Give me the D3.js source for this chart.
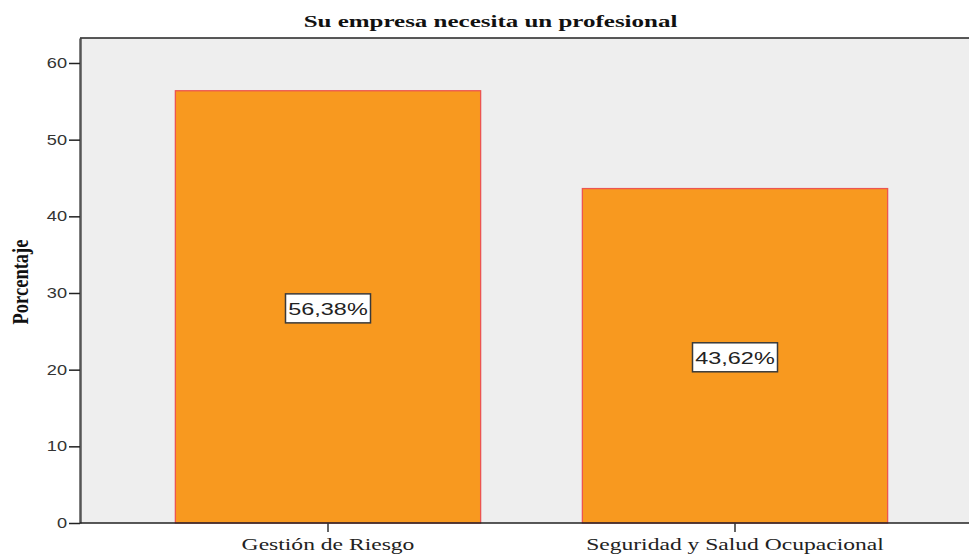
<!DOCTYPE html>
<html>
<head>
<meta charset="utf-8">
<script src="https://cdn.jsdelivr.net/npm/d3@7"></script>
<style>
  body { margin: 0; background: #fff; }
</style>
</head>
<body>
<div id="chart"></div>
<script>
var title = 'Su empresa necesita un profesional'
var y_title = 'Porcentaje'
var categories = ['Gestión de Riesgo', 'Seguridad y Salud Ocupacional']
var values = [56.38, 43.62]
var value_labels = ['56,38%', '43,62%']
var y_ticks = [0, 10, 20, 30, 40, 50, 60]

var W = 969, H = 555
var plot = {left: 80, top: 38, right: 969, bottom: 523}
// the original picture is stretched horizontally, so text is too
var stretch = 1.42

var svg = d3.select("#chart").append("svg")
    .attr("width", W).attr("height", H)

// plot background
svg.append("rect")
    .attr("x", plot.left).attr("y", plot.top)
    .attr("width", plot.right - plot.left).attr("height", plot.bottom - plot.top)
    .attr("fill", "#eeeeee")

var x = d3.scaleBand()
    .domain(categories)
    .range([124.5, 938.5])
    .paddingInner(0.25)
    .paddingOuter(0.125)

var y = d3.scaleLinear()
    .domain([0, 63.26])
    .range([plot.bottom, plot.top])

// bars
svg.selectAll(".bar")
    .data(values)
    .enter()
    .append("rect")
        .attr("class", "bar")
        .attr("x", function(d, i) { return x(categories[i]) })
        .attr("y", function(d) { return y(d) })
        .attr("width", x.bandwidth())
        .attr("height", function(d) { return y(0) - y(d) })
        .attr("fill", "#f8991f")
        .attr("stroke", "#ec5550")
        .attr("stroke-width", 1.3)

// value labels with boxes
var lab = svg.selectAll(".vlab")
    .data(values)
    .enter()
    .append("g")
        .attr("transform", function(d, i) {
            return "translate(" + (x(categories[i]) + x.bandwidth() / 2) + "," + ((y(d) + y(0)) / 2 + 2) + ")"
        })
lab.append("rect")
    .attr("x", -42.5).attr("y", -15)
    .attr("width", 85).attr("height", 29)
    .attr("fill", "#fff")
    .attr("stroke", "#3a3a3a")
    .attr("stroke-width", 1.5)
lab.append("text")
    .attr("text-anchor", "middle")
    .attr("transform", "translate(0,6) scale(" + stretch + ",1)")
    .style("font-family", "'Liberation Sans', Arial, sans-serif")
    .style("font-size", "16.5px")
    .attr("fill", "#222")
    .text(function(d, i) { return value_labels[i] })

// y axis
var yAxis = svg.append("g")
    .attr("transform", "translate(" + plot.left + ",0)")
    .call(d3.axisLeft(y).tickValues(y_ticks).tickSize(11).tickSizeOuter(0))
yAxis.select(".domain").attr("stroke", "#555").attr("stroke-width", 2.5)
yAxis.selectAll(".tick line").attr("stroke", "#222").attr("stroke-width", 1.5)
yAxis.selectAll(".tick text")
    .style("font-family", "'Liberation Sans', Arial, sans-serif")
    .style("font-size", "14px")
    .attr("fill", "#333")
    .attr("x", 0)
    .attr("transform", "translate(-13,0) scale(1.3,1)")

// x axis
var xAxis = svg.append("g")
    .attr("transform", "translate(0," + plot.bottom + ")")
    .call(d3.axisBottom(x).tickSize(9).tickSizeOuter(0))
xAxis.select(".domain").attr("d", "M" + plot.left + ",0H" + plot.right).attr("stroke", "#222").attr("stroke-width", 1.5)
xAxis.selectAll(".tick line").attr("stroke", "#333").attr("stroke-width", 1.5)
xAxis.selectAll(".tick text")
    .style("font-family", "'Liberation Serif', 'Times New Roman', serif")
    .style("font-size", "16.6px")
    .attr("fill", "#222")
    .attr("y", 0).attr("dy", 0)
    .attr("transform", "translate(0,27) scale(" + stretch + ",1)")

// top border
svg.append("line")
    .attr("x1", plot.left).attr("x2", plot.right)
    .attr("y1", plot.top).attr("y2", plot.top)
    .attr("stroke", "#222").attr("stroke-width", 1.5)

// title
svg.append("text")
    .attr("transform", "translate(490.5,27) scale(1.47,1)")
    .attr("text-anchor", "middle")
    .style("font-family", "'Liberation Serif', 'Times New Roman', serif")
    .style("font-weight", "bold")
    .style("font-size", "17px")
    .attr("fill", "#111")
    .text(title)

// y axis title
svg.append("text")
    .attr("transform", "translate(28,282) scale(1.2,1) rotate(-90)")
    .attr("text-anchor", "middle")
    .style("font-family", "'Liberation Serif', 'Times New Roman', serif")
    .style("font-weight", "bold")
    .style("font-size", "18.5px")
    .attr("fill", "#111")
    .text(y_title)
</script>
</body>
</html>
